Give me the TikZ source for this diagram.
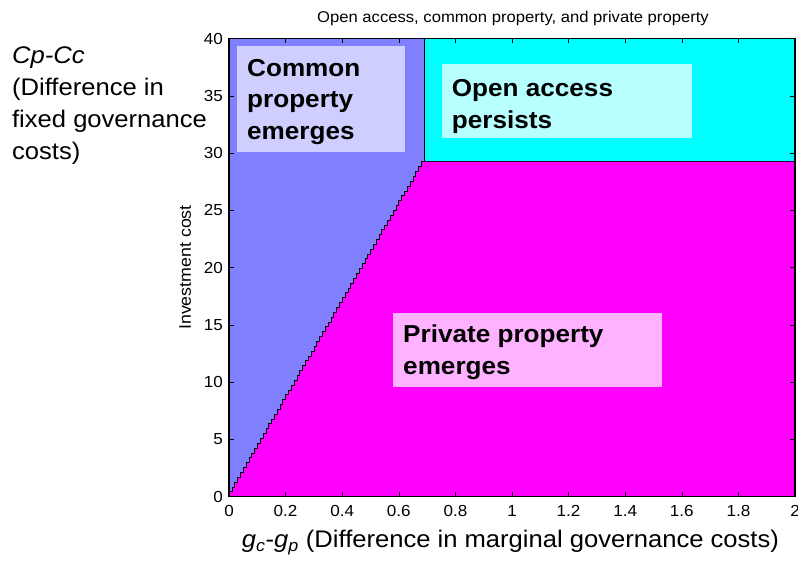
\documentclass[tikz,border=0pt]{standalone}
\usepackage{fontspec}
\setmainfont{Liberation Sans}[FakeStretch=1.066]
\tikzset{
  regionlabel/.style = {font = \fontsize{24.5}{31.5}\selectfont\bfseries, align = left, anchor = base west, inner sep = 0},
  axistext/.style = {font = \fontsize{24}{32}\selectfont, align = left, inner sep = 0},
  ticklabel/.style = {font = \fontsize{16}{18}\selectfont, inner sep = 0},
}
\begin{document}
\begin{tikzpicture}[x = 283pt, y = 11.45pt]
\useasboundingbox (-229pt,-63.5pt) rectangle (569pt,496.5pt);
\pgfmathsetmacro\xc{0.69}
\pgfmathsetmacro\yc{29.24}
\definecolor{commoncol}{RGB}{128,128,255}
\definecolor{opencol}{RGB}{0,255,255}
\definecolor{privcol}{RGB}{255,0,255}
% the three regions
\fill [commoncol] (0,0) rectangle (2,40);
\fill [privcol] (0,0) \foreach \i in {1,...,69} { |- (\i*0.01,\i*\yc/69) } -- (2,\yc) -- (2,0) -- cycle;
\filldraw [fill = opencol, draw = black, line width = 0.8pt] (\xc,\yc) rectangle (2,40);
\draw [line width = 1.6pt, draw = black!80!privcol] (\xc,\yc) -- (2,\yc);
\draw [line width = 0.5pt] (0,0) \foreach \i in {1,...,69} { |- (\i*0.01,\i*\yc/69) };
% label boxes
\fill [commoncol!38!white] (0.028,30.09) rectangle (0.622,39.34);
\fill [opencol!28!white] (0.752,31.31) rectangle (1.636,37.77);
\fill [privcol!30!white] (0.580,9.56) rectangle (1.530,16.03);
\node [regionlabel] (common) at (0.0636,31.22) {Common\\property\\emerges};
\node [regionlabel] (openacc) at (0.787,32.18) {Open access\\persists};
\node [regionlabel] (private) at (0.615,10.67) {Private property\\emerges};
% frame and ticks
\draw [line width = 1.2pt] (0,0) rectangle (2,40);
\foreach \x [count = \k] in {0,0.2,0.4,0.6,0.8,1,1.2,1.4,1.6,1.8,2} {
  \draw (\x,0) -- ++(0,5pt);
  \draw (\x,40) -- ++(0,-5pt);
  \node [ticklabel, anchor = base] (xt\k) at (\x,-1.764) {\x};
}
\foreach \y in {0,5,...,40} {
  \draw (0,\y) -- ++(5pt,0);
  \draw (2,\y) -- ++(-5pt,0);
  \node [ticklabel, anchor = east] (yt\y) at (-0.0212,\y) {\y};
}
% titles
\node [font = \fontsize{15.6}{18}\selectfont, anchor = base, inner sep = 0] (title) at (1.0035,41.40) {Open access, common property, and private property};
\node [font = \fontsize{16.7}{20}\selectfont, rotate = 90, inner sep = 0] (ylabel) at (-0.155,20.0) {Investment cost};
\node [axistext, anchor = base west] (xlabel) at (0.045,-4.44) {\textit{g}\textsubscript{\textit{c}}-\textit{g}\textsubscript{\textit{p}} (Difference in marginal governance costs)};
\node [axistext, anchor = base west] (cpcc) at (-0.767,29.39) {\textit{Cp-Cc}\\(Difference in\\fixed governance\\costs)};
\end{tikzpicture}
\end{document}
